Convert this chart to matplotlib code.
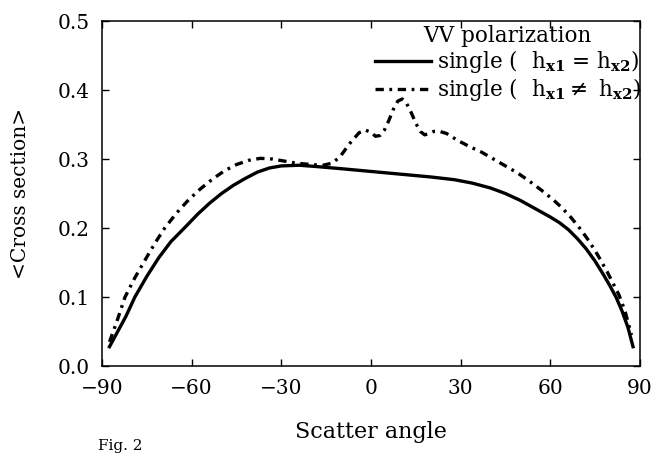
import matplotlib
matplotlib.use("Agg")
import matplotlib.pyplot as plt

plt.rcParams['font.family'] = ['DejaVu Serif']
plt.rcParams['mathtext.fontset'] = 'dejavuserif'
plt.rcParams['lines.scale_dashes'] = False

# solid curve: single (hx1 = hx2)
ang_same = [-87.5, -85, -82, -79, -75, -71, -67, -62, -58, -54, -50, -46, -42,
            -38, -34, -30, -24, -18, -10, 0, 10, 20, 28, 34, 40, 45, 50, 55,
            60, 63, 66, 69, 72, 75, 78, 80, 82, 84, 86, 87.7]
cs_same = [0.028, 0.048, 0.072, 0.100, 0.130, 0.157, 0.180, 0.202, 0.220, 0.236,
           0.250, 0.262, 0.272, 0.281, 0.287, 0.290, 0.291, 0.289, 0.286, 0.282,
           0.278, 0.274, 0.270, 0.265, 0.258, 0.250, 0.240, 0.228, 0.216, 0.208,
           0.198, 0.185, 0.170, 0.152, 0.131, 0.116, 0.100, 0.080, 0.056, 0.028]

# dash-dot curve: single (hx1 != hx2)
ang_diff = [-87.5, -85, -82.3, -79, -75, -72, -69, -65, -61, -57, -53, -49, -45,
            -41, -37, -33, -29, -25, -20, -16, -13, -10.4, -7, -4, -2, 0, 1.5,
            3, 4.5, 6, 7.5, 9, 10.5, 12, 13.5, 15, 16.5, 18, 19.5, 21, 23, 25.3,
            29, 33, 37, 41, 45, 49, 53, 57, 61, 64, 67, 70, 73, 76, 79, 81, 83,
            85, 87.2]
cs_diff = [0.035, 0.065, 0.100, 0.128, 0.158, 0.180, 0.200, 0.222, 0.241, 0.257,
           0.271, 0.283, 0.292, 0.298, 0.301, 0.300, 0.297, 0.294, 0.292, 0.291,
           0.294, 0.303, 0.323, 0.338, 0.342, 0.339, 0.333, 0.334, 0.342, 0.356,
           0.372, 0.384, 0.387, 0.380, 0.367, 0.352, 0.340, 0.335, 0.337, 0.340,
           0.340, 0.337, 0.327, 0.318, 0.310, 0.300, 0.290, 0.280, 0.268, 0.255,
           0.241, 0.229, 0.215, 0.199, 0.181, 0.160, 0.137, 0.120, 0.103, 0.080,
           0.045]

xticks = [-90, -60, -30, 0, 30, 60, 90]
yticks = [0.0, 0.1, 0.2, 0.3, 0.4, 0.5]

fig = plt.figure(figsize=(6.59, 4.53), dpi=100)
ax = fig.add_axes([0.1548, 0.192, 0.8162, 0.7616])

ax.plot(ang_same, cs_same, color='black', lw=2.4,
        label='single (  $\\mathrm{h}_{\\mathbf{x1}}$ = $\\mathrm{h}_{\\mathbf{x2}}$)')
ax.plot(ang_diff, cs_diff, color='black', lw=2.4, linestyle=(0, (6, 4, 2, 4)),
        label='single (  $\\mathrm{h}_{\\mathbf{x1}}$$\\neq$ $\\mathrm{h}_{\\mathbf{x2}}$)')

ax.set_xlim(-90, 90)
ax.set_ylim(0, 0.5)
ax.set_xticks(xticks)
ax.set_xticklabels(['\u221290', '\u221260', '\u221230', '0', '30', '60', '90'])
ax.set_yticks(yticks)
ax.set_yticklabels(['%.1f' % v for v in yticks])
ax.tick_params(direction='in', length=5, width=1, top=True, right=True,
               labelsize=14.5, pad=9)
for s in ax.spines.values():
    s.set_linewidth(1.1)

ax.set_xlabel('Scatter angle', fontsize=16, labelpad=17)
ax.set_ylabel('<Cross section>', fontsize=14.5, labelpad=20)

leg = ax.legend(loc='upper right', bbox_to_anchor=(1.01, 1.0), frameon=False,
                title='VV polarization', fontsize=15.5, title_fontsize=15.5,
                handlelength=2.6, handletextpad=0.3, labelspacing=0.05,
                borderaxespad=0.0, borderpad=0.2)

fig.text(0.148, 0.0, 'Fig. 2', fontsize=11, va='bottom')

fig.savefig('out.png', dpi=100)
